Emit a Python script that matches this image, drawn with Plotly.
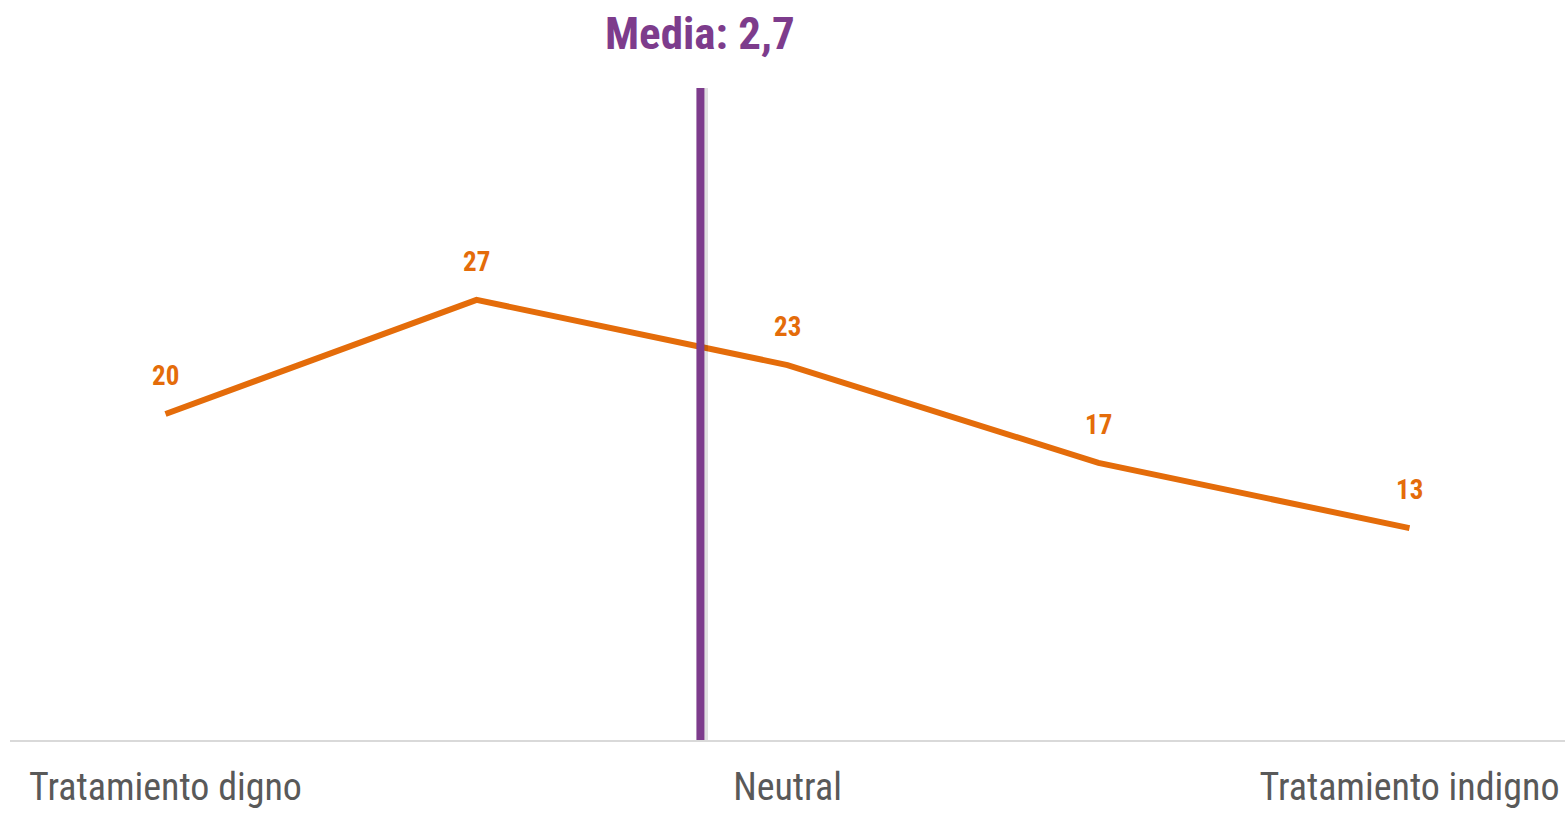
import plotly.graph_objects as go

# Data
positions = [1, 2, 3, 4, 5]
values = [20, 27, 23, 17, 13]
tick_positions = [1, 3, 5]
tick_labels = ["Tratamiento digno", "Neutral", "Tratamiento indigno"]
mean_position = 2.72
mean_label = "Media: 2,7"

ORANGE = "#E46C0A"
PURPLE = "#7D3C8C"
NARROW = "Liberation Sans Narrow, Arial Narrow, Roboto Condensed, sans-serif"

fig = go.Figure()

fig.add_trace(go.Scatter(
    x=positions, y=values, mode="lines",
    line=dict(color=ORANGE, width=6),
    hoverinfo="skip", showlegend=False,
))

for xv, yv in zip(positions, values):
    fig.add_annotation(
        x=xv, y=yv, text=f"<b>{yv}</b>", showarrow=False,
        yshift=38, font=dict(family=NARROW, size=27, color=ORANGE),
    )

# mean line shadow + line
shadow_offset = 0.01
fig.add_shape(type="line", x0=mean_position + shadow_offset, x1=mean_position + shadow_offset,
              y0=0, y1=40, xref="x", yref="y",
              line=dict(color="rgba(0,0,0,0.12)", width=9), layer="above")
fig.add_shape(type="line", x0=mean_position, x1=mean_position, y0=0, y1=40,
              xref="x", yref="y",
              line=dict(color=PURPLE, width=8), layer="above")

fig.add_annotation(
    x=mean_position, y=1, xref="x", yref="paper", yanchor="middle", yshift=55,
    text=f"<b>{mean_label}</b>", showarrow=False,
    font=dict(family=NARROW, size=45, color=PURPLE),
)

fig.update_layout(
    width=1567, height=813,
    margin=dict(l=10, r=2, t=88, b=73, autoexpand=False),
    paper_bgcolor="white", plot_bgcolor="white",
    xaxis=dict(
        range=[0.5, 5.5], tickmode="array", tickvals=tick_positions,
        ticktext=tick_labels, showgrid=False, zeroline=False,
        showline=True, linecolor="#D9D9D9", linewidth=2, ticks="",
        tickfont=dict(family=NARROW, size=38, color="#595959"),
        ticklabelstandoff=12, automargin=False,
    ),
    yaxis=dict(range=[0, 40], visible=False, showgrid=False, zeroline=False,
               automargin=False),
)

fig.write_html(
    "out.html",
    config={"displayModeBar": False},
    post_script="document.body.style.margin='0';document.body.style.overflow='hidden';",
)
